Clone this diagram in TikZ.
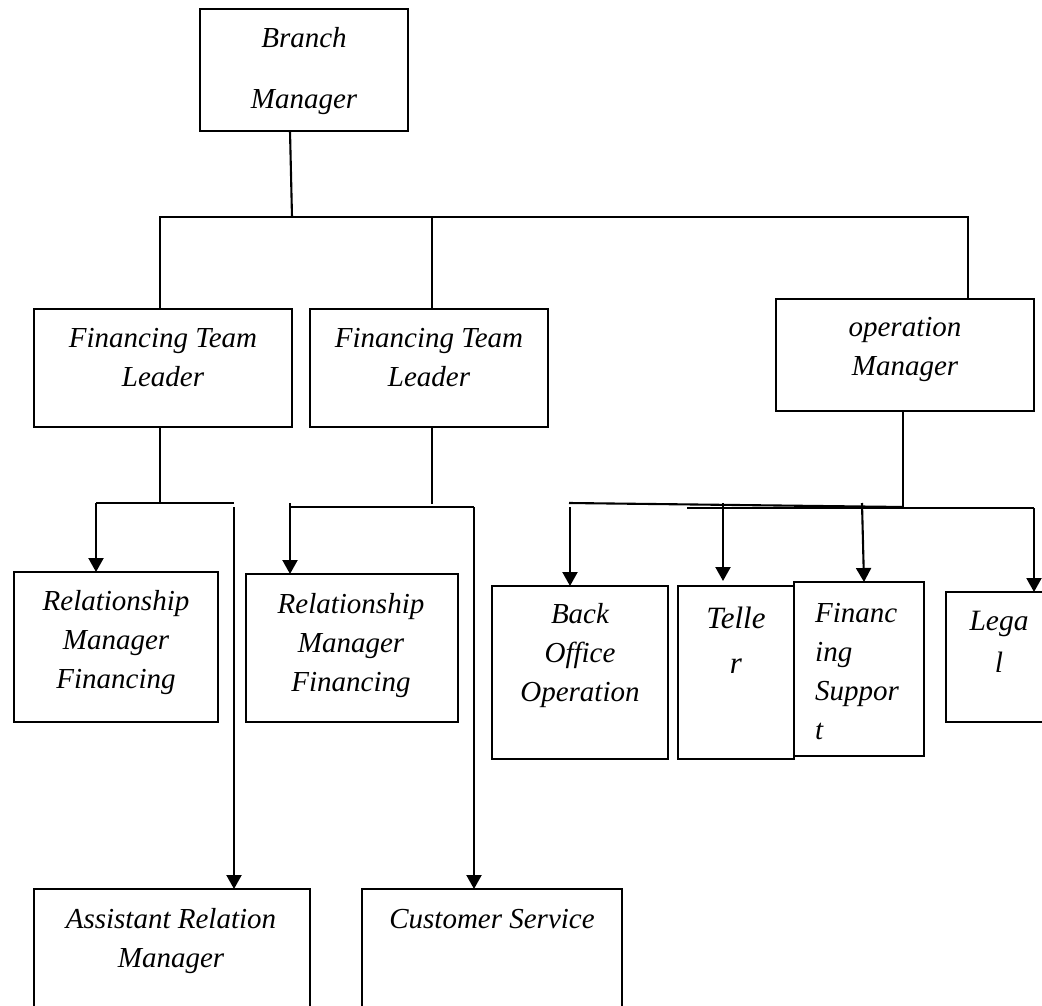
\documentclass[tikz,border=0pt]{standalone}
\usepackage{fontspec}
\setmainfont{Liberation Serif}
\usetikzlibrary{arrows.meta}
\tikzset{
  box/.style={draw, line width=2.1pt, inner sep=0pt, outer sep=0pt, fill=none},
  lbl/.style={font=\fontsize{29}{39}\selectfont\itshape, align=center, inner sep=0pt},
  conn/.style={line width=2.1pt},
  arr/.style={line width=2.1pt, -{Triangle[width=15pt,length=14pt]}}
}
\begin{document}
\begin{tikzpicture}[x=1pt,y=-1pt]
\clip (0,0) rectangle (1042,1006);
\fill[white] (0,0) rectangle (1042,1006);
% boxes
\node[box, minimum width=208pt, minimum height=122pt] (bm) at (304,70) {};
\node[box, minimum width=258pt, minimum height=118pt] (ftl1) at (163,368) {};
\node[box, minimum width=238pt, minimum height=118pt] (ftl2) at (429,368) {};
\node[box, minimum width=258pt, minimum height=112pt] (om) at (905,355) {};
\node[box, minimum width=204pt, minimum height=150pt] (rmf1) at (116,647) {};
\node[box, minimum width=212pt, minimum height=148pt] (rmf2) at (352,648) {};
\node[box, minimum width=176pt, minimum height=173pt] (bo) at (580,672.5) {};
\node[box, minimum width=116pt, minimum height=173pt] (tel) at (736,672.5) {};
\node[box, minimum width=130pt, minimum height=174pt] (fs) at (859,669) {};
\node[box, minimum width=124pt, minimum height=130pt] (leg) at (1008,657) {};
\node[box, minimum width=276pt, minimum height=141pt] (arm) at (172,959.5) {};
\node[box, minimum width=260pt, minimum height=141pt] (cs) at (492,959.5) {};
% texts
\node[lbl] (tbm) at (304,71) {Branch\\[22pt]Manager};
\node[lbl] (tftl1) at (163,358) {Financing Team\\Leader};
\node[lbl] (tftl2) at (429,358) {Financing Team\\Leader};
\node[lbl] (tom) at (905,349) {operation\\Manager};
\node[lbl] (trmf1) at (116,643) {Relationship\\Manager\\Financing};
\node[lbl] (trmf2) at (351,646) {Relationship\\Manager\\Financing};
\node[lbl] (tbo) at (580,656) {Back\\Office\\Operation};
\node[lbl, font=\fontsize{31}{45}\selectfont\itshape] (ttel) at (736,640) {Telle\\r};
\node[lbl, align=left, anchor=west] (tfs) at (815,672) {Financ\\ing\\Suppor\\t};
\node[lbl, font=\fontsize{29.5}{42}\selectfont\itshape] (tleg) at (999,642) {Lega\\l};
\node[lbl] (tarm) at (171,941) {Assistant Relation\\Manager};
\node[lbl] (tcs) at (492,919) {Customer Service};
% top level connectors
\coordinate (j0) at (292,217);
\coordinate (busL) at (160,217);
\coordinate (busR) at (968,217);
\coordinate (busM) at (432,217);
\draw[conn] ([xshift=-14pt]bm.south) -- (j0);
\draw[conn] (busL |- ftl1.north) -- (busL) -- (busR) -- (busR |- om.north);
\draw[conn] ([xshift=3pt]ftl2.north) -- (busM);
% financing team leader 1
\coordinate (a1L) at (96,503);
\coordinate (a1M) at (160,503);
\coordinate (a1R) at (234,503);
\coordinate (a1D) at (234,507);
\draw[conn] ([xshift=-3pt]ftl1.south) -- (a1M);
\draw[conn] (a1L) -- (a1R);
\draw[arr] (a1L) -- (a1L |- rmf1.north);
\draw[arr] (a1D) -- (a1D |- arm.north);
% financing team leader 2
\coordinate (a2M) at (432,504);
\coordinate (a2L) at (290,507);
\coordinate (a2T) at (290,503);
\coordinate (a2R) at (474,507);
\draw[conn] ([xshift=3pt]ftl2.south) -- (a2M);
\draw[conn] (a2L) -- (a2R);
\draw[arr] (a2T) -- (a2T |- rmf2.north);
\draw[arr] (a2R) -- (a2R |- cs.north);
% operation manager
\coordinate (oM) at (903,508);
\coordinate (oA1) at (569,503);
\coordinate (oA2) at (903,507);
\coordinate (oB1) at (687,508);
\coordinate (oB2) at (1034,508);
\coordinate (oBo) at (570,507);
\coordinate (oTe) at (723,503);
\coordinate (oFs) at (862,503);
\coordinate (oFsE) at (864,0);
\draw[conn] ([xshift=-2pt]om.south) -- (oM);
\draw[conn] (oA1) -- (oA2);
\draw[conn] (oB1) -- (oB2);
\draw[arr] (oBo) -- (oBo |- bo.north);
\draw[arr, shorten >=5pt] (oTe) -- (oTe |- tel.north);
\draw[arr] (oFs) -- (oFsE |- fs.north);
\draw[arr] (oB2) -- (oB2 |- leg.north);
\end{tikzpicture}
\end{document}
